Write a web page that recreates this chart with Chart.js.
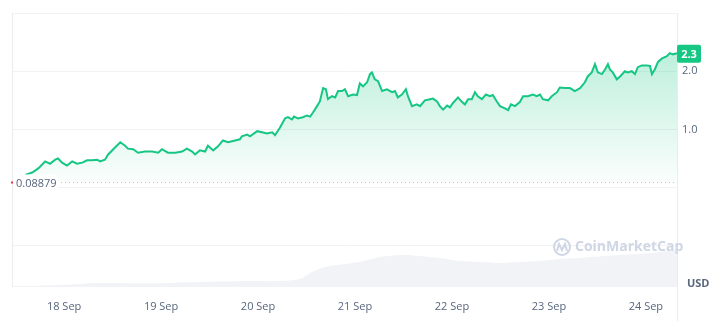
<!DOCTYPE html>
<html>
<head>
<meta charset="utf-8">
<script src="https://cdn.jsdelivr.net/npm/chart.js@4/dist/chart.umd.min.js"></script>
<style>
  html, body { margin: 0; padding: 0; background: #fff; }
  #wrap { width: 720px; height: 321px; position: relative; }
</style>
</head>
<body>
<div id="wrap"><canvas id="priceChart"></canvas></div>
<script>
// hours since 17 Sep 00:00
const priceHours = [14.4, 16.1, 17.6, 19.3, 20.5, 21.8, 22.5, 23.5, 24.7, 26.0, 27.2, 28.5, 29.7, 30.9, 32.2, 32.9,
  34.1, 34.9, 36.6, 37.9, 39.1, 39.8, 41.1, 42.3, 44.0, 45.8, 47.3, 48.2, 49.7, 51.5, 53.2, 54.4, 55.7, 56.4, 57.6,
  58.9, 59.6, 60.9, 62.1, 63.3, 64.6, 66.3,
  67.5, 68.0, 69.3, 70.0, 71.8, 73.0, 74.2, 75.5, 76.2, 77.4, 78.7, 79.4, 80.4, 80.9, 81.9, 83.1, 84.1, 84.9, 85.6,
  86.6, 87.3, 88.1, 88.8, 89.3, 90.3, 91.1, 91.8, 92.8, 93.5, 94.3, 95.5, 96.5, 97.2, 98.0, 99.0, 99.7, 100.2,
  100.9, 101.7, 102.7, 103.9, 105.2, 105.9, 106.6, 107.6, 108.6, 109.1, 110.1, 111.3, 112.1, 113.3, 114.6, 115.3,
  116.3, 117.0, 117.8, 118.8, 119.5, 120.2,
  121.5, 122.5, 123.2, 124.0, 124.9, 125.7, 126.4, 127.4, 128.4, 129.4, 130.1, 131.1, 131.9, 133.1, 133.9, 134.6,
  135.6, 136.8, 137.6, 138.8, 140.0, 141.0, 141.8, 142.5, 143.8, 144.7, 146.0, 146.7, 148.0, 149.2, 150.4, 151.7,
  152.9, 153.6, 154.6, 155.4, 156.1, 157.1, 157.9, 158.6, 159.1, 159.8, 160.8, 161.6, 162.8, 163.5, 164.5, 165.3,
  166.0, 167.0, 168.2, 169.0, 169.5, 170.2, 171.0, 172.0, 173.2, 173.9, 174.7, 175.7];
const priceValues = [0.22, 0.26, 0.33, 0.45, 0.41, 0.48, 0.50, 0.43, 0.38, 0.45, 0.41, 0.43, 0.47, 0.47, 0.48, 0.45,
  0.48, 0.57, 0.69, 0.78, 0.72, 0.67, 0.66, 0.60, 0.62, 0.62, 0.60, 0.66, 0.60, 0.60, 0.62, 0.67, 0.62, 0.57, 0.64,
  0.62, 0.72, 0.64, 0.71, 0.81, 0.78, 0.81,
  0.83, 0.88, 0.91, 0.88, 0.97, 0.95, 0.93, 0.95, 0.90, 1.03, 1.19, 1.21, 1.17, 1.22, 1.19, 1.21, 1.24, 1.22, 1.29,
  1.40, 1.48, 1.71, 1.69, 1.52, 1.57, 1.55, 1.66, 1.66, 1.69, 1.57, 1.60, 1.59, 1.79, 1.74, 1.81, 1.95, 1.98,
  1.86, 1.83, 1.66, 1.69, 1.64, 1.66, 1.55, 1.60, 1.69, 1.57, 1.40, 1.43, 1.40, 1.50, 1.52, 1.53,
  1.48, 1.40, 1.34, 1.41, 1.38, 1.45,
  1.55, 1.47, 1.43, 1.52, 1.52, 1.64, 1.57, 1.52, 1.60, 1.57, 1.59, 1.48, 1.40, 1.36, 1.33, 1.43,
  1.40, 1.47, 1.57, 1.57, 1.60, 1.57, 1.60, 1.52, 1.50, 1.57, 1.64, 1.72, 1.71, 1.71, 1.66, 1.71,
  1.81, 1.91, 1.98, 2.12, 1.98, 1.95, 2.03, 2.12, 2.03, 1.98, 1.86, 1.91, 2.00, 1.98, 2.00, 1.95,
  2.07, 2.10, 2.10, 2.09, 1.95, 2.03, 2.16, 2.22, 2.26, 2.31, 2.29, 2.31];

// 24h volume (relative units, hidden axis)
const volumeHours = [11.1, 15.6, 23.0, 32.9, 45.3, 57.7, 70.0, 77.4, 82.4, 84.9, 88.6, 93.5, 97.2, 102.2, 107.1,
  112.1, 117.0, 122.0, 126.9, 131.9, 136.8, 141.8, 146.7, 151.7, 154.1, 161.6, 166.5, 171.5, 175.7];
const volumeValues = [1, 1, 2, 4, 3.5, 5, 6, 6, 8, 14, 20, 23, 25, 30, 32, 31, 29, 26, 25, 24, 25, 26, 28, 29, 30,
  32, 33, 35, 38];

const dayTicks = [24, 48, 72, 96, 120, 144, 168];
const dayLabels = ['18 Sep', '19 Sep', '20 Sep', '21 Sep', '22 Sep', '23 Sep', '24 Sep'];
const priceTicks = [-1, 0, 1, 2, 3];
const openPrice = 0.08879;
const lastPrice = 2.3;

const GREEN = '#16c784';
const GREY_TEXT = '#58667e';

const overlay = {
  id: 'overlay',
  beforeDatasetsDraw(chart) {
    const { ctx, chartArea: a } = chart;
    ctx.save();
    ctx.strokeStyle = '#eaecef';
    ctx.lineWidth = 1;
    ctx.beginPath();
    ctx.moveTo(a.left + 0.5, a.top);
    ctx.lineTo(a.left + 0.5, a.bottom);
    ctx.moveTo(a.right + 0.5, a.top);
    ctx.lineTo(a.right + 0.5, chart.height);
    ctx.stroke();
    // watermark
    ctx.strokeStyle = '#cfd6e4';
    ctx.lineWidth = 2;
    ctx.beginPath();
    ctx.arc(562, 247, 8, 0, Math.PI * 2);
    ctx.stroke();
    ctx.beginPath();
    ctx.moveTo(557, 251);
    ctx.lineTo(559, 244);
    ctx.lineTo(562, 250);
    ctx.lineTo(565, 244);
    ctx.lineTo(567, 251);
    ctx.stroke();
    ctx.fillStyle = '#cfd6e4';
    ctx.font = 'bold 14px "Open Sans", sans-serif';
    ctx.textBaseline = 'middle';
    ctx.textAlign = 'left';
    ctx.fillText('CoinMarketCap', 575, 247);
    ctx.restore();
  },
  afterDatasetsDraw(chart) {
    const { ctx, chartArea: a, scales } = chart;
    const y0 = Math.round(scales.y.getPixelForValue(openPrice)) + 0.5;
    ctx.save();
    ctx.strokeStyle = '#e3b5bb';
    ctx.setLineDash([1, 3]);
    ctx.lineWidth = 1;
    ctx.beginPath();
    ctx.moveTo(57, y0);
    ctx.lineTo(a.right, y0);
    ctx.stroke();
    ctx.setLineDash([]);
    ctx.fillStyle = '#fff';
    ctx.beginPath();
    ctx.roundRect(a.left + 2, y0 - 8, 44, 16, 4);
    ctx.fill();
    ctx.fillStyle = '#ea3943';
    ctx.fillRect(a.left - 1, y0 - 1, 2, 2);
    ctx.fillStyle = GREY_TEXT;
    ctx.font = '11px "Open Sans", sans-serif';
    ctx.textBaseline = 'middle';
    ctx.textAlign = 'left';
    ctx.fillText('0.08879', a.left + 4, y0 + 1);
    // last price tag
    const yl = scales.y.getPixelForValue(lastPrice);
    ctx.fillStyle = GREEN;
    ctx.beginPath();
    ctx.roundRect(a.right, yl - 9, 24, 18, 2);
    ctx.fill();
    ctx.fillStyle = '#fff';
    ctx.font = 'bold 11px "Open Sans", sans-serif';
    ctx.textAlign = 'center';
    ctx.fillText('2.3', a.right + 12, yl + 1);
    ctx.fillStyle = GREY_TEXT;
    ctx.font = 'bold 11px "Open Sans", sans-serif';
    ctx.textAlign = 'left';
    ctx.fillText('USD', a.right + 10, 284);
    ctx.restore();
  }
};

new Chart(document.getElementById('priceChart'), {
  type: 'line',
  data: {
    datasets: [{
      label: 'Price',
      data: priceHours.map((h, i) => ({ x: h, y: priceValues[i] })),
      yAxisID: 'y',
      borderColor: GREEN,
      borderWidth: 2,
      pointRadius: 0,
      tension: 0,
      fill: { value: openPrice },
      backgroundColor: function(context) {
        const chart = context.chart;
        const { ctx, chartArea, scales } = chart;
        if (!chartArea) return 'rgba(22,199,132,0.1)';
        const top = scales.y.getPixelForValue(2.3);
        const bot = scales.y.getPixelForValue(openPrice);
        const g = ctx.createLinearGradient(0, top, 0, bot);
        g.addColorStop(0, 'rgba(22,199,132,0.28)');
        g.addColorStop(1, 'rgba(22,199,132,0.02)');
        return g;
      },
      order: 1
    }, {
      label: 'Volume',
      data: volumeHours.map((h, i) => ({ x: h, y: volumeValues[i] })),
      yAxisID: 'yVol',
      borderWidth: 0,
      pointRadius: 0,
      tension: 0.3,
      fill: 'origin',
      backgroundColor: 'rgba(221,226,235,0.4)',
      order: 2
    }]
  },
  options: {
    responsive: true,
    maintainAspectRatio: false,
    animation: false,
    layout: { padding: { left: 12, top: 13, right: 0, bottom: 0 } },
    plugins: {
      legend: { display: false },
      tooltip: { enabled: false }
    },
    scales: {
      x: {
        type: 'linear',
        min: 11.1,
        max: 175.7,
        afterBuildTicks: function(scale) {
          scale.ticks = dayTicks.map(v => ({ value: v }));
        },
        afterFit: function(scale) { scale.height = 34; },
        grid: { display: false },
        border: { display: false },
        ticks: {
          color: GREY_TEXT,
          font: { size: 11, family: '"Open Sans", sans-serif' },
          padding: 5,
          maxRotation: 0,
          callback: function(value) {
            const i = dayTicks.indexOf(value);
            return i >= 0 ? dayLabels[i] : '';
          }
        }
      },
      y: {
        position: 'right',
        min: -1.707,
        max: 3.0,
        afterBuildTicks: function(scale) {
          scale.ticks = priceTicks.map(v => ({ value: v }));
        },
        afterFit: function(scale) { scale.width = 43; },
        grid: { color: '#f1f2f4', drawTicks: false },
        border: { display: false },
        ticks: {
          color: GREY_TEXT,
          font: { size: 11, family: '"Open Sans", sans-serif' },
          padding: 5,
          callback: function(value) {
            return (value === 1 || value === 2) ? value.toFixed(1) : '';
          }
        }
      },
      yVol: {
        display: false,
        min: 0,
        max: 274
      }
    }
  },
  plugins: [overlay]
});
</script>
</body>
</html>
